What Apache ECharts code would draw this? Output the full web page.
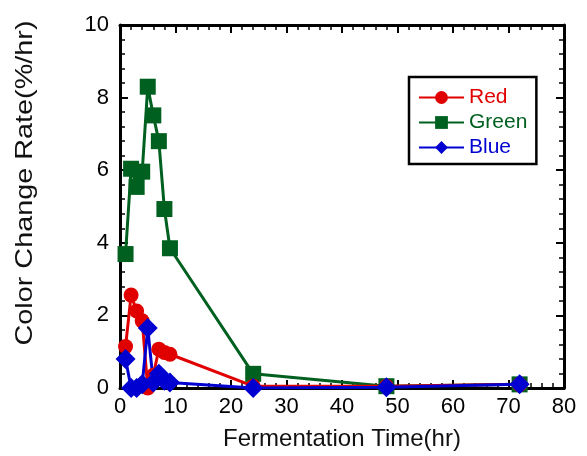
<!DOCTYPE html>
<html>
<head>
<meta charset="utf-8">
<script src="https://cdn.jsdelivr.net/npm/echarts@6/dist/echarts.min.js"></script>
<style>
  html, body { margin: 0; padding: 0; background: #fff; }
  #chart { width: 587px; height: 456px; }
</style>
</head>
<body>
<div id="chart"></div>
<script>
// sampling times (hr)
var times = [1, 2, 3, 4, 5, 6, 7, 8, 9, 24, 48, 72];
// color change rate (%/hr)
var redVals = [1.14, 2.56, 2.12, 1.85, 0.0, 0.35, 1.07, 0.98, 0.93, 0.05, 0.05, 0.1];
var greenVals = [3.69, 6.04, 5.54, 5.96, 8.3, 7.51, 6.8, 4.93, 3.85, 0.39, 0.05, 0.1];
var blueVals = [0.8, 0.0, 0.0, 0.1, 1.65, 0.15, 0.39, 0.2, 0.15, 0.0, 0.02, 0.1];
var xTicks = [0, 10, 20, 30, 40, 50, 60, 70, 80];
var yTicks = [0, 2, 4, 6, 8, 10];

var RED = '#e00000', GREEN = '#006020', BLUE = '#0000d0';
var FONT = 'Liberation Sans, Arial, sans-serif';

function pairs(vals) {
    var out = [];
    for (var i = 0; i < times.length; i++) out.push([times[i], vals[i]]);
    return out;
}

function axisBase(show) {
    return {
        axisLine: { show: true, onZero: false, lineStyle: { color: '#000', width: 3 } },
        axisTick: { show: true, inside: true, length: 8, lineStyle: { color: '#000', width: 2 } },
        minorTick: { show: true, splitNumber: 5, length: 5, lineStyle: { color: '#000', width: 1.5 } },
        splitLine: { show: false },
        axisLabel: { show: show, color: '#000', fontSize: 22, fontFamily: FONT }
    };
}

var xMain = Object.assign(axisBase(true), {
    type: 'value', min: xTicks[0], max: xTicks[xTicks.length - 1], interval: 10,
    name: 'Fermentation Time(hr)', nameLocation: 'middle', nameGap: 39,
    nameTextStyle: { color: '#111', fontSize: 24, fontFamily: FONT }
});
xMain.axisLabel.margin = 8;
var xTop = Object.assign(axisBase(false), {
    type: 'value', position: 'top', min: 0, max: 80, interval: 10
});
var yMain = Object.assign(axisBase(true), {
    type: 'value', min: yTicks[0], max: yTicks[yTicks.length - 1], interval: 2
});
yMain.axisLabel.margin = 11;
var yRight = Object.assign(axisBase(false), {
    type: 'value', position: 'right', min: 0, max: 10, interval: 2
});

var option = {
    animation: false,
    backgroundColor: '#fff',
    grid: { left: 120, right: 23, top: 25, bottom: 65 },
    // y axis title, stretched along its length like the reference
    graphic: [{
        type: 'text',
        x: 25, y: 183,
        rotation: Math.PI / 2,
        scaleX: 1.2,
        style: {
            text: 'Color Change Rate(%/hr)',
            fill: '#111', fontSize: 24, fontFamily: FONT,
            align: 'center', verticalAlign: 'middle'
        }
    }],
    legend: {
        orient: 'vertical',
        left: 409, top: 77,
        padding: [10, 9, 6, 9],
        itemGap: 4,
        itemWidth: 45, itemHeight: 16,
        borderColor: '#000', borderWidth: 2.5,
        textStyle: { fontSize: 21, fontFamily: FONT },
        data: [
            { name: 'Red', textStyle: { color: RED } },
            { name: 'Green', textStyle: { color: GREEN } },
            { name: 'Blue', textStyle: { color: BLUE } }
        ]
    },
    xAxis: [xMain, xTop],
    yAxis: [yMain, yRight],
    series: [
        {
            name: 'Green', type: 'line', data: pairs(greenVals),
            symbol: 'rect', symbolSize: 16,
            itemStyle: { color: GREEN }, lineStyle: { color: GREEN, width: 3 }
        },
        {
            name: 'Red', type: 'line', data: pairs(redVals),
            symbol: 'circle', symbolSize: 15,
            itemStyle: { color: RED }, lineStyle: { color: RED, width: 3 }
        },
        {
            name: 'Blue', type: 'line', data: pairs(blueVals),
            symbol: 'diamond', symbolSize: 20,
            itemStyle: { color: BLUE }, lineStyle: { color: BLUE, width: 3 }
        }
    ]
};

var myChart = echarts.init(document.getElementById('chart'));
myChart.setOption(option);
</script>
</body>
</html>
